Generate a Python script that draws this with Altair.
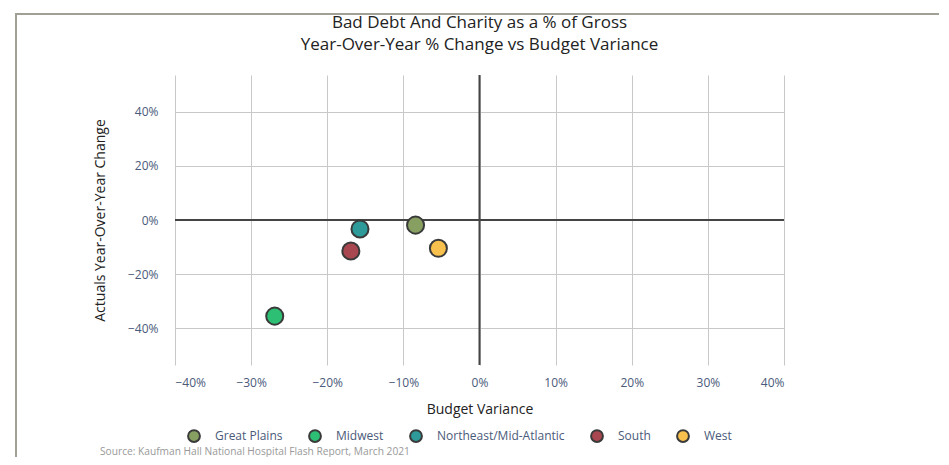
import altair as alt
import pandas as pd

regions = ["Great Plains", "Midwest", "Northeast/Mid-Atlantic", "South", "West"]
budget_variance = [-0.084, -0.269, -0.157, -0.169, -0.054]
yoy_change = [-0.019, -0.356, -0.033, -0.115, -0.105]
colors = ["#87a062", "#2dbf74", "#2e9a9a", "#a8474f", "#f8c04c"]
x_ticks = [-0.4, -0.3, -0.2, -0.1, 0.0, 0.1, 0.2, 0.3, 0.4]
y_ticks = [-0.4, -0.2, 0.0, 0.2, 0.4]
title_lines = ["Bad Debt And Charity as a % of Gross", "Year-Over-Year % Change vs Budget Variance"]
source = "Source: Kaufman Hall National Hospital Flash Report, March 2021"

df = pd.DataFrame({"Region": regions, "x": budget_variance, "y": yoy_change})

FONT = "Open Sans"
xscale = alt.Scale(domain=[-0.4, 0.4], nice=False)
yscale = alt.Scale(domain=[-0.537, 0.537], nice=False)

base = alt.Chart(df)

points = base.mark_point(filled=True, size=290, stroke="#3a3a3a", strokeWidth=2, opacity=1).encode(
    x=alt.X("x:Q", scale=xscale,
            axis=alt.Axis(values=x_ticks, format=".0%", title="Budget Variance",
                          grid=True, domain=False, ticks=False, labelPadding=12,
                          titlePadding=14)),
    y=alt.Y("y:Q", scale=yscale,
            axis=alt.Axis(values=y_ticks, format=".0%", title="Actuals Year-Over-Year Change",
                          grid=True, domain=False, ticks=False, labelPadding=17,
                          titlePadding=20)),
    fill=alt.Fill("Region:N", scale=alt.Scale(domain=regions, range=colors),
                  legend=alt.Legend(title=None, orient="none", direction="horizontal",
                                    legendX=12, legendY=354, symbolType="circle",
                                    symbolSize=140, symbolStrokeColor="#3a3a3a",
                                    symbolStrokeWidth=2, labelFont=FONT, labelFontSize=12,
                                    labelColor="#4a5a7a", labelOffset=14, columnPadding=22)),
)

zero_v = alt.Chart(pd.DataFrame({"v": [0.0]})).mark_rule(color="#444444", strokeWidth=2).encode(
    x=alt.X("v:Q", scale=xscale))
zero_h = alt.Chart(pd.DataFrame({"v": [0.0]})).mark_rule(color="#444444", strokeWidth=2).encode(
    y=alt.Y("v:Q", scale=yscale))

src = alt.Chart(pd.DataFrame({"t": [source]})).mark_text(
    align="left", baseline="middle", font=FONT, fontSize=10.2, color="#999999").encode(
    text="t:N", x=alt.value(-75), y=alt.value(377))

title1 = alt.Chart(pd.DataFrame({"t": [title_lines[0]]})).mark_text(
    align="center", baseline="middle", font=FONT, fontSize=17, color="#222222").encode(
    text="t:N", x=alt.value(304.5), y=alt.value(-52))
title2 = alt.Chart(pd.DataFrame({"t": [title_lines[1]]})).mark_text(
    align="center", baseline="middle", font=FONT, fontSize=17, color="#222222").encode(
    text="t:N", x=alt.value(304.5), y=alt.value(-30))

FRAME = "#a0a094"
frame_top = alt.Chart(pd.DataFrame({"t": [0]})).mark_rule(color=FRAME, strokeWidth=2).encode(
    x=alt.value(-159), x2=alt.value(766), y=alt.value(-61))
frame_left = alt.Chart(pd.DataFrame({"t": [0]})).mark_rule(color=FRAME, strokeWidth=2).encode(
    x=alt.value(-159), y=alt.value(-62), y2=alt.value(420))
frame_right = alt.Chart(pd.DataFrame({"t": [0]})).mark_rule(color=FRAME, strokeWidth=2).encode(
    x=alt.value(766), y=alt.value(-62), y2=alt.value(420))

chart = alt.layer(frame_top, frame_left, frame_right, zero_v, zero_h, points, src,
                  title1, title2).properties(
    width=609, height=290,
    background="white",
    padding={"left": 167, "top": 67, "right": 155, "bottom": 92},
    autosize=alt.AutoSizeParams(type="none"),
).configure_view(stroke=None).configure_axis(
    gridColor="#c8c8c8", gridWidth=1, labelFont=FONT, labelFontSize=12, labelColor="#4a5a7a",
    titleFont=FONT, titleFontSize=14, titleFontWeight="normal", titleColor="#222222"
)

chart.save("out.html", embed_options={"renderer": "svg", "actions": False})
